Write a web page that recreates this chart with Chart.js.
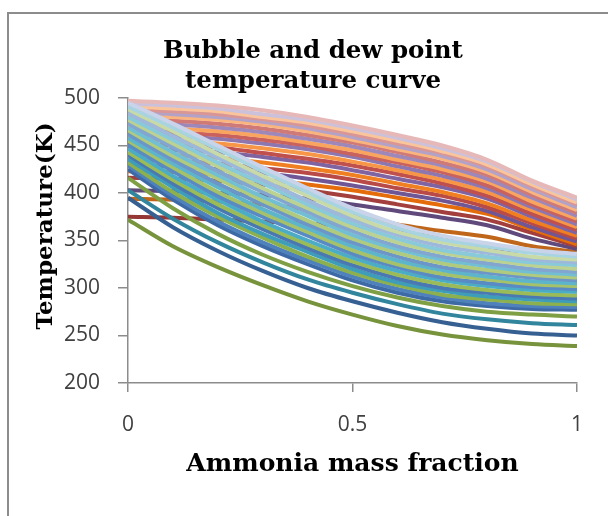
<!DOCTYPE html>
<html>
<head>
<meta charset="utf-8">
<script src="https://cdn.jsdelivr.net/npm/chart.js@4.4.1/dist/chart.umd.min.js"></script>
<style>
    html, body { margin: 0; padding: 0; background: #fff; }
    #wrap { position: relative; width: 608px; height: 516px; }
    #frame { position: absolute; left: 7px; top: 12px; right: -4px; bottom: -4px; border-left: 2px solid #8c8c8c; border-top: 2px solid #8c8c8c; }
    canvas { position: absolute; left: 0; top: 0; }
</style>
</head>
<body>
<div id="wrap">
    <div id="frame"></div>
    <canvas id="tempChart" width="608" height="516"></canvas>
</div>
<script>
const chartTitle = ['Bubble and dew point', 'temperature curve'];
const xTitle = 'Ammonia mass fraction';
const yTitle = 'Temperature(K)';

// ammonia mass fraction at which each curve was read
const massFraction = [0, 0.1, 0.2, 0.3, 0.4, 0.5, 0.6, 0.7, 0.8, 0.9, 1];

// bubble point temperatures (K), lowest pressure first
const bubbleCurves = [
    [372, 344, 322, 303, 286, 272, 260, 251, 245, 241, 239],
    [395, 364, 339, 318, 300, 286, 274, 264, 257, 252, 250],
    [403, 373, 348, 327, 309, 295, 283, 273, 267, 263, 261],
    [416, 384, 357, 335, 317, 302, 290, 281, 275, 272, 270],
    [425, 393, 366, 344, 325, 308, 295, 286, 281, 278, 277],
    [429, 397, 370, 348, 329, 312, 299, 290, 284, 281, 280],
    [432, 401, 375, 353, 333, 316, 303, 293, 288, 284, 283],
    [436, 406, 379, 357, 338, 320, 306, 297, 291, 288, 286],
    [440, 410, 384, 362, 342, 324, 310, 300, 295, 291, 289],
    [443, 414, 388, 366, 346, 328, 314, 304, 298, 294, 292],
    [447, 418, 393, 370, 350, 332, 318, 308, 302, 298, 296],
    [451, 423, 397, 375, 355, 336, 322, 311, 305, 301, 299],
    [455, 427, 401, 379, 359, 340, 325, 315, 309, 304, 302],
    [458, 431, 406, 383, 363, 344, 329, 319, 312, 307, 305],
    [462, 435, 410, 388, 367, 348, 333, 322, 316, 311, 308],
    [466, 439, 415, 392, 371, 352, 337, 326, 319, 314, 311],
    [469, 443, 419, 396, 376, 356, 341, 330, 323, 317, 314],
    [473, 448, 423, 401, 380, 360, 344, 333, 326, 320, 317],
    [477, 452, 428, 405, 384, 364, 348, 337, 330, 324, 320],
    [480, 456, 432, 410, 388, 368, 352, 340, 333, 327, 324],
    [484, 460, 437, 414, 392, 372, 356, 344, 337, 330, 327],
    [488, 465, 441, 418, 397, 376, 359, 348, 340, 333, 330],
    [491, 469, 446, 423, 401, 380, 363, 351, 344, 337, 333],
    [495, 473, 450, 427, 405, 384, 367, 355, 347, 340, 336]
];

// dew point temperatures (K), lowest pressure first
const dewCurves = [
    [375, 374, 372, 370, 368, 365, 360, 352, 343, 338, 336],
    [394, 393, 391, 388, 383, 376, 367, 360, 354, 344, 338],
    [403, 402, 400, 398, 394, 388, 381, 374, 366, 352, 341],
    [416, 415, 413, 409, 403, 396, 388, 380, 372, 358, 344],
    [423, 422, 419, 414, 409, 403, 395, 387, 378, 362, 346],
    [429, 428, 425, 421, 415, 408, 400, 392, 381, 364, 349],
    [435, 434, 431, 426, 421, 414, 405, 397, 385, 368, 352],
    [441, 440, 437, 432, 426, 419, 410, 401, 389, 371, 355],
    [447, 445, 443, 438, 432, 424, 415, 406, 394, 375, 358],
    [452, 450, 448, 442, 436, 429, 420, 410, 397, 378, 361],
    [457, 455, 452, 447, 441, 433, 424, 414, 401, 382, 364],
    [462, 460, 457, 452, 446, 438, 428, 418, 405, 385, 367],
    [466, 464, 461, 456, 450, 441, 432, 422, 408, 388, 370],
    [470, 468, 465, 460, 453, 445, 435, 425, 412, 391, 373],
    [474, 472, 469, 464, 457, 449, 439, 429, 415, 395, 376],
    [478, 476, 473, 468, 461, 453, 443, 432, 419, 398, 379],
    [482, 480, 477, 472, 465, 456, 446, 436, 422, 401, 382],
    [485, 483, 480, 475, 468, 459, 449, 439, 425, 404, 385],
    [488, 486, 483, 478, 471, 462, 452, 442, 428, 407, 388],
    [491, 489, 486, 480, 474, 465, 455, 444, 430, 409, 390],
    [494, 492, 489, 483, 477, 468, 458, 447, 433, 412, 393],
    [497, 495, 492, 487, 480, 471, 461, 450, 435, 413, 395]
];

const bubbleColors = [
    '#77933C', '#376092', '#31859C', '#7F9F45',
    '#3D6AA5', '#4F81BD', '#8DB04F', '#3E9DB8', '#4A78B2', '#9BBB59',
    '#4BACC6', '#5A8AC4', '#A5C26B', '#5DB5CC', '#6C95C8', '#B0CA7E',
    '#72BFD3', '#82A6D0', '#BCD292', '#88C9DA', '#9DB8DA', '#C8DAA8',
    '#A8D4E2', '#C9D3EA'
];
const dewColors = [
    '#953735', '#C0661A', '#604A7B', '#A33F3C',
    '#E46C0A', '#6F5694', '#B84A47', '#F07F22', '#8064A2', '#C0504D',
    '#F79646', '#8E76AE', '#C9615E', '#F9A560', '#9D88B9', '#D07A78',
    '#FAB47E', '#B3A2C7', '#D99694', '#FBC59C', '#CCC1DA', '#E6B9B8'
];

function toPoints(temps) {
    return temps.map((t, i) => ({ x: massFraction[i], y: t }));
}

// dew curves sit underneath, bubble curves are painted over them
const datasets = [];
dewCurves.forEach((temps, i) => {
    datasets.push({
        label: 'Dew ' + (i + 1),
        data: toPoints(temps),
        borderColor: dewColors[i],
        order: 200 - i
    });
});
bubbleCurves.forEach((temps, i) => {
    datasets.push({
        label: 'Bubble ' + (i + 1),
        data: toPoints(temps),
        borderColor: bubbleColors[i],
        order: 100 - i
    });
});

// chart title and rotated y title, placed like the original sheet
const titlesPlugin = {
    id: 'titles',
    afterDraw(chart) {
        const ctx = chart.ctx;
        ctx.save();
        ctx.fillStyle = '#000';
        ctx.textAlign = 'center';
        ctx.textBaseline = 'middle';
        ctx.font = 'bold 24.5px "DejaVu Serif"';
        ctx.fillText(chartTitle[0], 313, 52);
        ctx.fillText(chartTitle[1], 313, 82);
        ctx.translate(46, 226);
        ctx.rotate(-Math.PI / 2);
        ctx.font = 'bold 23px "DejaVu Serif"';
        ctx.fillText(yTitle, 0, 0);
        ctx.restore();
    }
};

const ctx = document.getElementById('tempChart').getContext('2d');
new Chart(ctx, {
    type: 'line',
    data: { datasets: datasets },
    options: {
        responsive: false,
        animation: false,
        events: [],
        layout: { padding: { top: 98, right: 31, left: 0, bottom: 0 } },
        elements: {
            line: { borderWidth: 4, cubicInterpolationMode: 'monotone', fill: false },
            point: { radius: 0 }
        },
        plugins: {
            legend: { display: false },
            tooltip: { enabled: false },
            title: { display: false }
        },
        scales: {
            x: {
                type: 'linear',
                min: 0,
                max: 1,
                afterFit: s => { s.height = 133; },
                ticks: {
                    stepSize: 0.5,
                    padding: 20,
                    color: '#404040',
                    font: { family: '"Open Sans"', size: 21 },
                    callback: v => String(v)
                },
                grid: { drawOnChartArea: false, tickLength: 9, color: '#8c8c8c', lineWidth: 1.5 },
                border: { color: '#8c8c8c', width: 1.5 },
                title: {
                    display: true,
                    text: xTitle,
                    color: '#000',
                    padding: { top: 0, bottom: 37 },
                    font: { family: '"DejaVu Serif"', size: 25, weight: 'bold', lineHeight: 1.2 }
                }
            },
            y: {
                min: 200,
                max: 500,
                afterFit: s => { s.width = 128; },
                ticks: {
                    stepSize: 50,
                    padding: 18,
                    color: '#404040',
                    font: { family: '"Open Sans"', size: 21 }
                },
                grid: { drawOnChartArea: false, tickLength: 10, color: '#8c8c8c', lineWidth: 1.5 },
                border: { color: '#8c8c8c', width: 1.5 }
            }
        }
    },
    plugins: [titlesPlugin]
});
</script>
</body>
</html>
